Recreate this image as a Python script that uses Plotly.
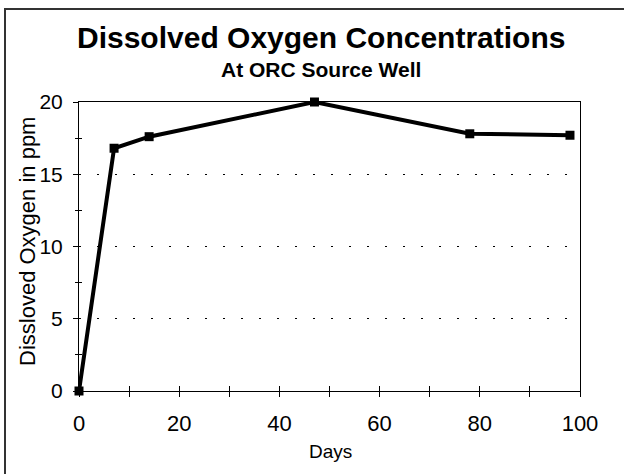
import plotly.graph_objects as go

days = [0, 7, 14, 47, 78, 98]
oxygen = [0, 16.8, 17.6, 20.0, 17.8, 17.7]

title_text = "Dissolved Oxygen Concentrations"
subtitle_text = "At ORC Source Well"
x_title = "Days"
y_title = "Dissloved Oxygen in ppm"
x_ticks = [0, 20, 40, 60, 80, 100]
y_ticks = [0, 5, 10, 15, 20]

FONT = "Liberation Sans, Arial, sans-serif"
W, H = 624, 474
L, R, T, B = 79, 44, 102, 83
pw, ph = W - L - R, H - T - B

def px_x(x):
    return (x - L) / pw

def px_y(y):
    return (H - B - y) / ph

fig = go.Figure()
fig.add_trace(go.Scatter(
    x=days, y=oxygen, mode="lines+markers",
    line=dict(color="black", width=4),
    marker=dict(symbol="square", size=9, color="black"),
    showlegend=False, hoverinfo="skip", cliponaxis=False,
))
# invisible trace for overlay axes (crossing ticks)
fig.add_trace(go.Scatter(x=[None], y=[None], xaxis="x2", yaxis="y2",
                         showlegend=False, hoverinfo="skip"))

fig.update_layout(
    width=W, height=H,
    margin=dict(l=L, r=R, t=T, b=B, pad=0),
    paper_bgcolor="white", plot_bgcolor="white",
    font=dict(family=FONT, color="black"),
    xaxis=dict(
        range=[0, 100], tickvals=x_ticks, ticks="outside", ticklen=5,
        tickwidth=1, tickcolor="black",
        showline=True, linecolor="black", linewidth=1, mirror=True,
        showgrid=False, zeroline=False,
        tickfont=dict(size=22, family=FONT),
        ticklabelstandoff=8,
        minor=dict(dtick=10, ticks="outside", ticklen=5, tickcolor="black", showgrid=False),
    ),
    yaxis=dict(
        range=[0, 20], tickvals=y_ticks, ticks="outside", ticklen=5,
        tickwidth=1, tickcolor="black",
        showline=True, linecolor="black", linewidth=1, mirror=True,
        showgrid=True, gridcolor="black", gridwidth=1, griddash="2px,16px",
        zeroline=False,
        tickfont=dict(size=21, family=FONT),
        ticklabelstandoff=6,
        minor=dict(tickvals=[2.5, 7.5, 12.5, 17.5], ticks="outside",
                   ticklen=3, tickcolor="black", showgrid=False),
    ),
    xaxis2=dict(overlaying="x", matches="x", range=[0, 100], dtick=10, tick0=0,
                ticks="inside", ticklen=5, tickcolor="black", showticklabels=False,
                showgrid=False, zeroline=False, showline=False),
    yaxis2=dict(overlaying="y", matches="y", range=[0, 20],
                tickvals=[2.5, 7.5, 12.5, 17.5],
                ticks="inside", ticklen=3, tickcolor="black", showticklabels=False,
                showgrid=False, zeroline=False, showline=False),
)

fig.add_annotation(text="<b>" + title_text + "</b>", xref="paper", yref="paper",
                   x=px_x(321), y=px_y(38), xanchor="center", yanchor="middle",
                   showarrow=False, font=dict(size=30, family=FONT))
fig.add_annotation(text="<b>" + subtitle_text + "</b>", xref="paper", yref="paper",
                   x=px_x(321), y=px_y(69), xanchor="center", yanchor="middle",
                   showarrow=False, font=dict(size=21, family=FONT))
fig.add_annotation(text=x_title, xref="paper", yref="paper",
                   x=px_x(330), y=px_y(451), xanchor="center", yanchor="middle",
                   showarrow=False, font=dict(size=19, family=FONT))
fig.add_annotation(text=y_title, xref="paper", yref="paper", textangle=-90,
                   x=px_x(27), y=px_y(242), xanchor="center", yanchor="middle",
                   showarrow=False, font=dict(size=22, family=FONT))

# outer chart frame (top and left edges visible, rest beyond the crop)
for (ax0, ay0, ax1, ay1) in [(4, 9, 700, 9), (5, 8, 5, 600)]:
    fig.add_shape(type="line", xref="paper", yref="paper",
                  x0=px_x(ax0), x1=px_x(ax1), y0=px_y(ay0), y1=px_y(ay1),
                  line=dict(color="#333333", width=2), layer="below")

fig.write_html(
    "out.html",
    config={"displayModeBar": False, "staticPlot": True},
    post_script="document.body.style.margin='0';document.body.style.overflow='hidden';",
)
